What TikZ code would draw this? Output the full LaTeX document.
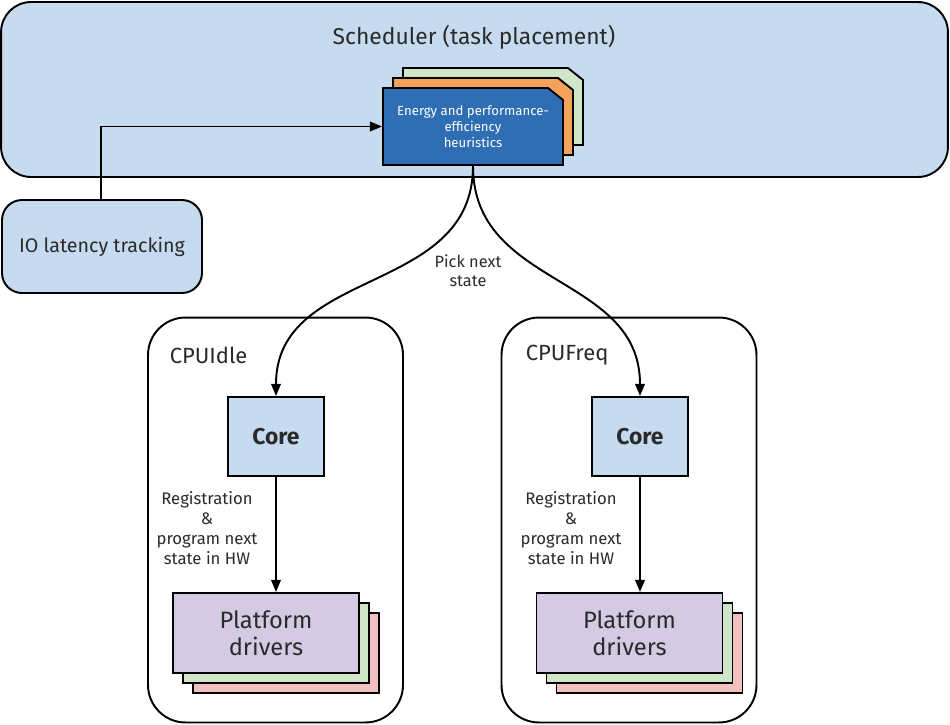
\documentclass[tikz,border=0pt]{standalone}
\usepackage{fontspec}
\setmainfont{Fira Sans}
\usetikzlibrary{positioning}
\usetikzlibrary{arrows.meta}
\usetikzlibrary{calc}
\usetikzlibrary{math}

\definecolor{lightblue}{HTML}{C6DBEF}
\definecolor{heurblue}{HTML}{2F6DB5}
\definecolor{heurorange}{HTML}{F4A25C}
\definecolor{backgreen}{HTML}{D0E6C8}
\definecolor{platpurple}{HTML}{D4CAE3}
\definecolor{platpink}{HTML}{F3C0C0}
\definecolor{textgray}{HTML}{2A2A2A}

\begin{document}
\begin{tikzpicture}[x=0.02cm,y=-0.02cm,line width=1.1pt,text=textgray,
  roundbox/.style={draw, fill=lightblue, rounded corners=0.4cm, inner sep=0pt},
  group/.style={draw, rounded corners=0.75cm, minimum width=5.1cm, minimum height=8.1cm},
  corebox/.style={draw, fill=lightblue, minimum width=1.92cm, minimum height=1.58cm,
    font=\fontsize{13}{15}\selectfont\bfseries},
  platbox/.style={draw, minimum width=3.72cm, minimum height=1.6cm, align=center,
    font=\fontsize{13.5}{15.5}\selectfont},
  smalltext/.style={align=center, font=\fontsize{9.5}{11.3}\selectfont},
  arrow/.style={-{Triangle[length=7pt,width=5.5pt]}}]

  \useasboundingbox (0,0) rectangle (950,724);

  \tikzmath{
    \hw = 180; % width of a heuristics card
    \hh = 77;  % height of a heuristics card
    \cx = 15;  % chamfer, horizontal
    \cy = 12;  % chamfer, vertical
  }

  % Scheduler
  \node[roundbox, rounded corners=0.6cm, minimum width=18.94cm, minimum height=3.5cm]
    (sched) at (474.5,89.5) {};
  \node[font=\fontsize{13}{15}\selectfont] (schedtitle) at (474,37) {Scheduler (task placement)};

  % heuristics cards, back to front
  \foreach \d/\col in {20/backgreen, 10/heurorange, 0/heurblue} {
    \filldraw[fill=\col] ($(383,88)+(\d,-\d)$) -- ++(\hw-\cx,0) -- ++(\cx,\cy)
      -- ++(0,\hh-\cy) -- ++(-\hw,0) -- cycle;
  }
  \node[minimum width=3.6cm, minimum height=1.54cm, align=center, text=white,
    font=\fontsize{7.5}{9.3}\selectfont] (heur) at (473,126.5)
    {Energy and performance-\\efficiency\\heuristics};

  % IO latency tracking
  \node[roundbox, minimum width=4cm, minimum height=1.86cm,
    font=\fontsize{11.2}{13}\selectfont] (io) at (102,246.5) {IO latency tracking};

  % CPUIdle and CPUFreq
  \node[group] (idle) at (275.5,520) {};
  \node[group] (freq) at (629,520) {};
  \node[anchor=west, font=\fontsize{12.5}{14}\selectfont] (idlelabel) at (163,355) {CPUIdle};
  \node[anchor=west, font=\fontsize{12.5}{14}\selectfont] (freqlabel) at (519,355) {CPUFreq};

  \node[corebox] (corel) at (276,436.5) {Core};
  \node[corebox] (corer) at (640,436.5) {Core};

  % platform drivers, back to front
  \coordinate (pl) at (266,633);
  \coordinate (pr) at (629.5,633);
  \foreach \d/\col in {20/platpink, 10/backgreen} {
    \node[platbox, fill=\col] at ($(pl)+(\d,\d)$) {};
    \node[platbox, fill=\col] at ($(pr)+(\d,\d)$) {};
  }
  \node[platbox, fill=platpurple] (platl) at (pl) {Platform\\drivers};
  \node[platbox, fill=platpurple] (platr) at (pr) {Platform\\drivers};

  % connectors
  \draw[arrow] (io.north -| 101,0) |- (heur.west);
  \draw[arrow] (heur.south) to[out=-90, in=90, looseness=1.1] (corel.north);
  \draw[arrow] (heur.south) to[out=-90, in=90, looseness=1.1] (corer.north);
  \draw[arrow] (corel.south) -- (corel.south |- platl.north);
  \draw[arrow] (corer.south) -- (corer.south |- platr.north);

  \node[smalltext, font=\fontsize{9.3}{10.6}\selectfont] (pick) at (468,271) {Pick next\\state};
  \node[smalltext] (regl) at (207,528) {Registration\\\&\\program next\\state in HW};
  \node[smalltext] (regr) at (571,528) {Registration\\\&\\program next\\state in HW};

\end{tikzpicture}
\end{document}
